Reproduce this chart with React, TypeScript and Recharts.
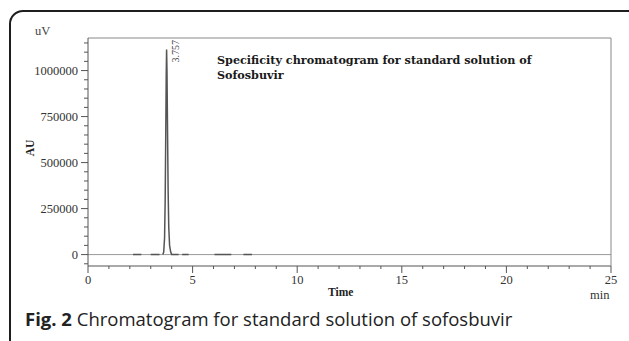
import React from 'react';
import { LineChart, Line, XAxis, YAxis, ReferenceLine, ReferenceDot } from 'recharts';

// retention time (min) and detector signal (uV); null = no trace drawn
const times = [2.15, 2.55, 2.8, 3.0, 3.42, 3.5, 3.58, 3.62, 3.66, 3.69, 3.72, 3.74, 3.757, 3.775, 3.8, 3.83, 3.86, 3.9, 3.95, 4.0, 4.33, 4.4, 4.5, 4.81, 5.5, 6.05, 6.85, 7.1, 7.43, 7.84];
const signal = [0, 0, null, 0, 0, null, 0, 15000, 90000, 300000, 700000, 980000, 1114000, 1000000, 700000, 350000, 150000, 50000, 15000, 0, 0, null, 0, 0, null, 0, 0, null, 0, 0];

const peakTime = 3.757;
const peakHeight = 1114000;
const peakLabel = '3.757';

const yMajor = [0, 250000, 500000, 750000, 1000000];
const xMajor = [0, 5, 10, 15, 20, 25];
const yMinor = Array.from({ length: 25 }, (_, i) => -50000 + i * 50000);
const xMinor = Array.from({ length: 26 }, (_, i) => i);

const data = times.map((t, i) => ({ t, v: signal[i] }));

const serif = '"Liberation Serif", "Times New Roman", serif';

const YTick = (props: any) => {
  const { x, y, payload } = props;
  const major = yMajor.includes(payload.value);
  return (
    <g>
      <line x1={x - (major ? 7 : 4)} x2={x} y1={y} y2={y} stroke="#555" />
      {major && (
        <text x={x - 10} y={y} dy={4} textAnchor="end" fontSize={12.5} fontFamily={serif} fill="#333">
          {payload.value}
        </text>
      )}
    </g>
  );
};

const XTick = (props: any) => {
  const { x, y, payload } = props;
  const major = xMajor.includes(payload.value);
  return (
    <g>
      <line x1={x} x2={x} y1={y} y2={y + (major ? 7 : 3)} stroke="#555" />
      {major && (
        <text x={x} y={y + 18} textAnchor="middle" fontSize={12.5} fontFamily={serif} fill="#333">
          {payload.value}
        </text>
      )}
    </g>
  );
};

const PeakLabel = (props: any) => {
  const { viewBox } = props;
  const x = viewBox.x + 12;
  const y = viewBox.y + 13;
  return (
    <text x={x} y={y} transform={`rotate(-90 ${x} ${y})`} fontSize={10} fontFamily={serif} fill="#444">
      {peakLabel}
    </text>
  );
};

export default function App() {
  return (
    <div style={{ position: 'fixed', left: 0, top: 0, width: 629, height: 341, overflow: 'hidden', background: '#fff' }}>
      <div
        style={{
          position: 'absolute',
          left: 9,
          top: 10,
          width: 640,
          height: 360,
          border: '2px solid #1e1e1e',
          borderRadius: 14,
        }}
      />
      <LineChart
        width={629}
        height={341}
        data={data}
        margin={{ top: 37, right: 17, left: 38, bottom: 45 }}
        style={{ position: 'absolute', left: 0, top: 0 }}
      >
        <XAxis
          dataKey="t"
          type="number"
          domain={[0, 25]}
          ticks={xMinor}
          interval={0}
          tick={<XTick />}
          tickLine={false}
          tickSize={0}
          tickMargin={0}
          height={30}
          axisLine={{ stroke: '#555' }}
          allowDataOverflow
        />
        <XAxis
          xAxisId="top"
          orientation="top"
          type="number"
          domain={[0, 25]}
          tick={false}
          tickLine={false}
          height={1}
          axisLine={{ stroke: '#888' }}
        />
        <YAxis
          type="number"
          domain={[-62000, 1177000]}
          ticks={yMinor}
          interval={0}
          tick={<YTick />}
          tickLine={false}
          tickSize={0}
          tickMargin={0}
          width={50}
          axisLine={{ stroke: '#555' }}
          allowDataOverflow
        />
        <YAxis
          yAxisId="right"
          orientation="right"
          type="number"
          domain={[0, 1]}
          tick={false}
          tickLine={false}
          width={1}
          axisLine={{ stroke: '#888' }}
        />
        <ReferenceLine y={0} stroke="#999" strokeWidth={1} />
        <Line
          type="linear"
          dataKey="v"
          stroke="#555"
          strokeWidth={1.5}
          dot={false}
          connectNulls={false}
          isAnimationActive={false}
        />
        <ReferenceDot x={peakTime} y={peakHeight} r={0} label={<PeakLabel />} />
      </LineChart>
      <div style={{ position: 'absolute', left: 35, top: 24, fontFamily: serif, fontSize: 12.5, color: '#444' }}>uV</div>
      <div
        style={{
          position: 'absolute',
          left: 20,
          top: 142,
          width: 20,
          textAlign: 'center',
          transform: 'rotate(-90deg)',
          fontFamily: serif,
          fontWeight: 'bold',
          fontSize: 11.5,
          color: '#222',
        }}
      >
        AU
      </div>
      <div style={{ position: 'absolute', left: 217, top: 53, fontFamily: '"DejaVu Serif", serif', fontWeight: 'bold', fontSize: 11.2, lineHeight: '15px', color: '#1a1a1a' }}>
        Specificity chromatogram for standard solution of
        <br />
        Sofosbuvir
      </div>
      <div style={{ position: 'absolute', left: 328, top: 286, fontFamily: serif, fontWeight: 'bold', fontSize: 11.5, color: '#222' }}>Time</div>
      <div style={{ position: 'absolute', left: 590, top: 288, fontFamily: serif, fontSize: 12.5, color: '#333' }}>min</div>
      <div style={{ position: 'absolute', left: 25, top: 306, fontFamily: '"Open Sans", sans-serif', fontSize: 18.5, color: '#222', whiteSpace: 'nowrap' }}>
        <b>Fig. 2</b> Chromatogram for standard solution of sofosbuvir
      </div>
    </div>
  );
}
